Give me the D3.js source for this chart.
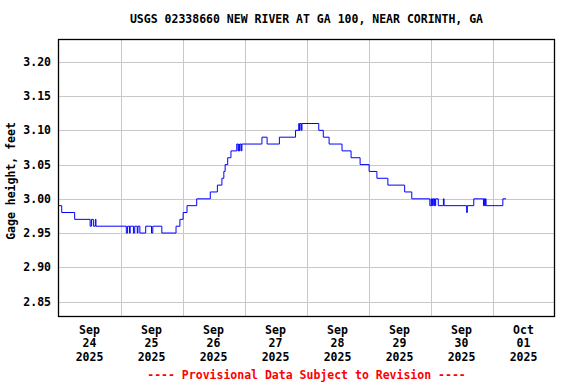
<!DOCTYPE html>
<html><head><meta charset="utf-8">
<script src="https://cdn.jsdelivr.net/npm/d3@7"></script>
<style>
html,body{margin:0;padding:0;background:#fff;}
text{font-family:"DejaVu Sans Mono","Liberation Mono",monospace;font-weight:bold;}
</style></head>
<body>
<svg id="chart" width="576" height="384"></svg>
<script>
const title = "USGS 02338660 NEW RIVER AT GA 100, NEAR CORINTH, GA";
const yLabel = "Gage height, feet";
const footer = "---- Provisional Data Subject to Revision ----";
const yTicks = [2.85, 2.90, 2.95, 3.00, 3.05, 3.10, 3.15, 3.20];
const dayTicks = ["2025-09-24","2025-09-25","2025-09-26","2025-09-27","2025-09-28","2025-09-29","2025-09-30","2025-10-01"];
const dayLabels = [["Sep","24","2025"],["Sep","25","2025"],["Sep","26","2025"],["Sep","27","2025"],["Sep","28","2025"],["Sep","29","2025"],["Sep","30","2025"],["Oct","01","2025"]];
// gage height change points (time, feet); held until the next reading
const times = [
"2025-09-24 00:00","2025-09-24 01:15","2025-09-24 06:15","2025-09-24 12:15","2025-09-24 12:45","2025-09-24 13:30","2025-09-24 14:15","2025-09-24 14:30",
"2025-09-25 02:15","2025-09-25 02:45","2025-09-25 03:30","2025-09-25 03:45","2025-09-25 05:00","2025-09-25 05:30","2025-09-25 06:30","2025-09-25 06:45",
"2025-09-25 07:30","2025-09-25 09:45","2025-09-25 12:00","2025-09-25 12:30","2025-09-25 16:00","2025-09-25 21:30","2025-09-25 23:00",
"2025-09-26 00:15","2025-09-26 01:45","2025-09-26 05:30","2025-09-26 10:45","2025-09-26 13:30","2025-09-26 15:15","2025-09-26 16:00","2025-09-26 16:30",
"2025-09-26 17:30","2025-09-26 18:45","2025-09-26 21:00","2025-09-26 21:30","2025-09-26 21:45","2025-09-26 22:00","2025-09-26 22:15","2025-09-26 22:45","2025-09-26 23:00",
"2025-09-27 06:45","2025-09-27 08:45","2025-09-27 13:30","2025-09-27 19:45","2025-09-27 21:00","2025-09-27 21:15","2025-09-27 21:30","2025-09-27 22:00","2025-09-27 22:15",
"2025-09-28 04:45","2025-09-28 06:30","2025-09-28 08:45","2025-09-28 13:45","2025-09-28 17:15","2025-09-28 20:45",
"2025-09-29 00:15","2025-09-29 03:15","2025-09-29 07:30","2025-09-29 14:00","2025-09-29 16:45","2025-09-29 23:45",
"2025-09-30 00:15","2025-09-30 00:30","2025-09-30 00:45","2025-09-30 01:15","2025-09-30 01:30","2025-09-30 01:45","2025-09-30 02:00","2025-09-30 03:00",
"2025-09-30 05:00","2025-09-30 05:15","2025-09-30 14:00","2025-09-30 14:15","2025-09-30 16:45","2025-09-30 20:30","2025-09-30 20:45","2025-09-30 21:00","2025-09-30 21:15","2025-09-30 21:30",
"2025-10-01 04:00","2025-10-01 05:15"];
const heights = [
2.99,2.98,2.97,2.96,2.97,2.96,2.97,2.96,
2.95,2.96,2.95,2.96,2.95,2.96,2.95,2.96,
2.95,2.96,2.95,2.96,2.95,2.96,2.97,
2.98,2.99,3.00,3.01,3.02,3.03,3.04,3.05,
3.06,3.07,3.08,3.07,3.08,3.07,3.08,3.07,3.08,
3.09,3.08,3.09,3.10,3.11,3.10,3.11,3.10,3.11,
3.10,3.09,3.08,3.07,3.06,3.05,
3.04,3.03,3.02,3.01,3.00,2.99,
3.00,2.99,3.00,2.99,3.00,2.99,3.00,2.99,
3.00,2.99,2.98,2.99,3.00,2.99,3.00,2.99,3.00,2.99,
3.00,3.00];

const parse = d3.utcParse("%Y-%m-%d %H:%M");
const parseDay = d3.utcParse("%Y-%m-%d");
const data = times.map((t,i)=>({t:parse(t), v:heights[i]}));

const L=58.5, R=554.5, T=39.5, B=316.5;
const x = d3.scaleUtc().domain([parseDay("2025-09-24"), parseDay("2025-10-02")]).range([L,R]);
const y = d3.scaleLinear().domain([2.8281, 3.2327]).range([B,T]);

const svg = d3.select("#chart");

// grid
const gridColor = "#c8c8c8";
svg.append("g").selectAll("line").data(yTicks).join("line")
  .attr("x1",L).attr("x2",R)
  .attr("y1",d=>Math.round(y(d))+0.5).attr("y2",d=>Math.round(y(d))+0.5)
  .attr("stroke",gridColor).attr("stroke-width",1);
svg.append("g").selectAll("line").data(dayTicks.slice(1)).join("line")
  .attr("x1",d=>Math.round(x(parseDay(d)))+0.5).attr("x2",d=>Math.round(x(parseDay(d)))+0.5)
  .attr("y1",T).attr("y2",B)
  .attr("stroke",gridColor).attr("stroke-width",1);

// data line
const line = d3.line().x(d=>x(d.t)).y(d=>y(d.v)).curve(d3.curveStepAfter);
svg.append("path").datum(data).attr("d",line)
  .attr("fill","none").attr("stroke","#0000ff").attr("stroke-width",1);

// border
svg.append("rect").attr("x",L).attr("y",T).attr("width",R-L).attr("height",B-T)
  .attr("fill","none").attr("stroke","#000").attr("stroke-width",1.3);

// y tick labels
svg.append("g").selectAll("text").data(yTicks).join("text")
  .attr("x",51).attr("y",d=>y(d)+4)
  .attr("text-anchor","end").attr("font-size","11.5px").attr("fill","#000")
  .text(d=>d3.format(".2f")(d));

// x labels (centered at noon)
const xl = svg.append("g");
dayTicks.forEach((d,i)=>{
  const cx = x(d3.utcHour.offset(parseDay(d),12));
  dayLabels[i].forEach((s,j)=>{
    xl.append("text").attr("x",cx).attr("y",334+j*13.3)
      .attr("text-anchor","middle").attr("font-size","11.5px").attr("fill","#000").text(s);
  });
});

// title
svg.append("text").attr("x",(L+R)/2).attr("y",23).attr("text-anchor","middle")
  .attr("font-size","11.5px").attr("fill","#000").text(title);

// y axis label
svg.append("text").attr("transform","translate(15,181) rotate(-90)")
  .attr("text-anchor","middle").attr("font-size","11.5px").attr("fill","#000").text(yLabel);

// footer
svg.append("text").attr("x",(L+R)/2).attr("y",379).attr("text-anchor","middle")
  .attr("font-size","11.5px").attr("fill","#ff0000").text(footer);
</script>
</body></html>
